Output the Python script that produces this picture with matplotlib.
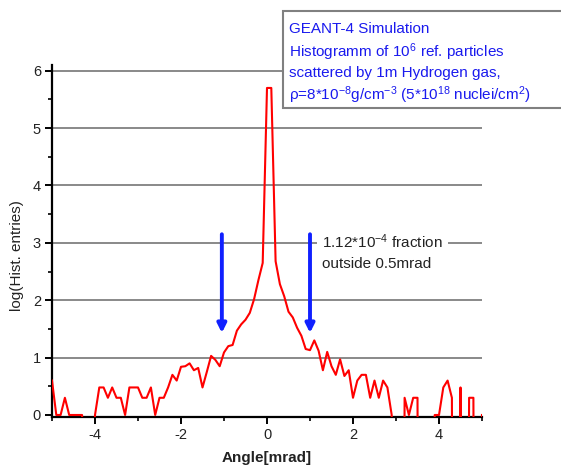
import numpy as np
import matplotlib
matplotlib.use("Agg")
import matplotlib.pyplot as plt
from matplotlib.patches import Rectangle
from matplotlib.ticker import MultipleLocator

plt.rcParams['font.family'] = ['Liberation Sans', 'DejaVu Sans']
plt.rcParams['mathtext.fontset'] = 'custom'
plt.rcParams['mathtext.rm'] = 'Liberation Sans'
plt.rcParams['mathtext.it'] = 'Liberation Sans:italic'
plt.rcParams['mathtext.bf'] = 'Liberation Sans:bold'

NEG = -np.inf  # empty bin: log10(0)

angle = np.linspace(-5.0, 5.0, 101)  # bin centers [mrad]
log_entries = [
    0.6, 0, 0, 0.3, 0, 0, 0, 0, NEG, NEG,            # -5.0 .. -4.1
    0, 0.48, 0.48, 0.3, 0.48, 0.3, 0.3, 0, 0.48, 0.48,  # -4.0 .. -3.1
    0.48, 0.3, 0.3, 0.48, 0, 0.3, 0.3, 0.48, 0.7, 0.6,  # -3.0 .. -2.1
    0.84, 0.85, 0.9, 0.78, 0.82, 0.48, 0.75, 1.03, 0.96, 0.85,  # -2.0 .. -1.1
    1.09, 1.2, 1.22, 1.47, 1.58, 1.66, 1.78, 2.02, 2.35, 2.65,  # -1.0 .. -0.1
    5.7,                                              # 0.0
    5.7, 2.68, 2.28, 2.07, 1.8, 1.7, 1.52, 1.38, 1.15, 1.13,  # 0.1 .. 1.0
    1.3, 1.12, 0.78, 1.1, 0.85, 0.7, 0.97, 0.68, 0.78, 0.3,   # 1.1 .. 2.0
    0.6, 0.7, 0.7, 0.3, 0.6, 0.3, 0.6, 0.48, 0, NEG,          # 2.1 .. 3.0
    NEG, 0.3, 0, 0.3, 0.3, NEG, NEG, NEG, 0, 0,               # 3.1 .. 4.0
    0.48, 0.6, 0.3, NEG, 0.48, NEG, 0.3, 0.3, NEG, 0,         # 4.1 .. 5.0
]

arrow_x = [-1.05, 1.0]
arrow_top = 3.15
arrow_tip = 1.43

box_lines = [
    "GEANT-4 Simulation",
    "Histogramm of 10$^{6}$ ref. particles",
    "scattered by 1m Hydrogen gas,",
    "ρ=8*10$^{-8}$g/cm$^{-3}$ (5*10$^{18}$ nuclei/cm$^{2}$)",
]
note_lines = ["1.12*10$^{-4}$ fraction", "outside 0.5mrad"]

W, H = 561, 466
fig = plt.figure(figsize=(W / 100, H / 100), dpi=100)
ax = fig.add_axes([52 / W, 1 - 417 / H, (482 - 52) / W, (417 - 65) / H])

# Origin-like: empty bins drop straight down out of the frame
y = np.nan_to_num(np.array(log_entries, dtype=float), neginf=-20.0)
ax.plot(angle, y, color='#ff0000', lw=1.5, zorder=5)

ax.set_xlim(-5, 5)
ax.set_ylim(-0.035, 6.1)
ax.xaxis.set_minor_locator(MultipleLocator(1))
ax.set_yticks([0, 1, 2, 3, 4, 5, 6])
ax.set_yticks([0.5, 1.5, 2.5, 3.5, 4.5, 5.5], minor=True)
ax.set_xticks([-4, -2, 0, 2, 4])
ax.set_xticklabels(['-4', '-2', '0', '2', '4'])

for yy in range(1, 7):
    ax.axhline(yy, color='#808080', lw=1.3, zorder=1)

for s in ['top', 'right']:
    ax.spines[s].set_visible(False)
for s in ['left', 'bottom']:
    ax.spines[s].set_linewidth(1.6)
    ax.spines[s].set_zorder(4)

ax.tick_params(which='major', direction='out', length=5, width=1.4,
               labelsize=10.5, labelcolor='#222222', pad=3)
ax.tick_params(which='minor', direction='out', length=3, width=1.2)

ax.set_ylabel("log(Hist. entries)", fontsize=11, color='#222222')
ax.yaxis.set_label_coords(-0.066, 0.46)
ax.set_xlabel("Angle[mrad]", fontsize=11, fontweight='bold', color='#222222')
ax.xaxis.label.set_verticalalignment('center')
ax.xaxis.set_label_coords(0.5, -0.117)

for xa in arrow_x:
    ax.annotate('', xy=(xa, arrow_tip), xytext=(xa, arrow_top),
                arrowprops=dict(arrowstyle='-|>', color='#1020ff', lw=2.8,
                                mutation_scale=13, shrinkA=0, shrinkB=0),
                zorder=6)

ax.text(1.28, 3.02, note_lines[0], fontsize=11, color='#222222', va='center', ha='left',
        bbox=dict(fc='white', ec='none', pad=4), zorder=2)
ax.text(1.28, 2.63, note_lines[1], fontsize=11, color='#222222', va='center', ha='left', zorder=2)

# information box (figure coordinates)
box = Rectangle((283 / W, 1 - 108 / H), 1.0, (108 - 11) / H, transform=fig.transFigure,
                fc='white', ec='#808080', lw=1.5, zorder=10)
fig.patches.append(box)
line_y = [29, 52, 73, 95]
for txt, ly in zip(box_lines, line_y):
    fig.text(289 / W, 1 - ly / H, txt, fontsize=11, color='#1a1aee',
             va='center', ha='left', zorder=11)

fig.savefig("out.png", dpi=100)
